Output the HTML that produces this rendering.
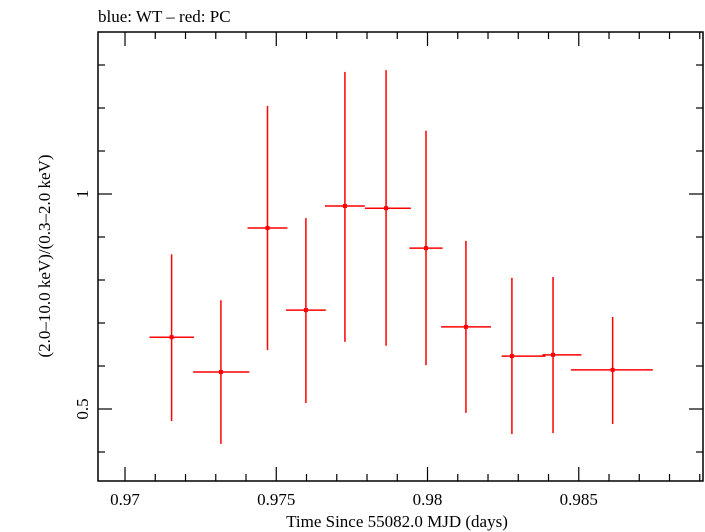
<!DOCTYPE html>
<html><head><meta charset="utf-8"><style>
body{margin:0;background:#fff}
svg{display:block;font-family:"Liberation Serif",serif}
</style></head><body>
<svg id="chart" width="705" height="532" xmlns="http://www.w3.org/2000/svg">
<text x="98" y="22" font-size="17">blue: WT – red: PC</text>
<rect x="98" y="32" width="605" height="449" fill="none" stroke="#000" stroke-width="1.5"/>
<g id="ticks"></g>
<g id="marks"></g>
<text x="397" y="527" font-size="17" text-anchor="middle">Time Since 55082.0 MJD (days)</text>
<text transform="translate(50,256) rotate(-90)" font-size="17" text-anchor="middle">(2.0–10.0 keV)/(0.3–2.0 keV)</text>
</svg>
<script>
const xCenter=[0.97154,0.97317,0.97471,0.97598,0.97727,0.97863,0.97995,0.98127,0.98279,0.98415,0.98612];
const xLo=[0.97081,0.97225,0.97405,0.97532,0.97661,0.97793,0.97940,0.98045,0.98245,0.98380,0.98474];
const xHi=[0.97228,0.97411,0.97537,0.97664,0.97793,0.97945,0.98050,0.98210,0.98390,0.98509,0.98745];
const yVal=[0.667,0.586,0.921,0.730,0.972,0.967,0.874,0.691,0.623,0.626,0.591];
const yLo=[0.472,0.419,0.637,0.514,0.656,0.647,0.602,0.491,0.442,0.444,0.465];
const yHi=[0.860,0.753,1.205,0.944,1.284,1.288,1.147,0.891,0.805,0.807,0.714];
const xTickLabels=["0.97","0.975","0.98","0.985"];
const yTickLabels=["0.5","1"];
const X0=98,X1=703,Y0=32,Y1=481,XMIN=0.969107,XMAX=0.989107,YMIN=0.33256,YMAX=1.37674;
const sx=v=>X0+(v-XMIN)/(XMAX-XMIN)*(X1-X0);
const sy=v=>Y1-(v-YMIN)/(YMAX-YMIN)*(Y1-Y0);
const NS="http://www.w3.org/2000/svg";
function mk(tag,attrs,parent){const e=document.createElementNS(NS,tag);for(const k in attrs)e.setAttribute(k,attrs[k]);parent.appendChild(e);return e;}
const tg=document.getElementById('ticks'),mg=document.getElementById('marks');
for(let i=0;i<=20;i++){const v=0.969+i*0.001;if(v<XMIN-1e-9||v>XMAX)continue;const x=sx(v);const major=Math.abs(Math.round(v*200)-v*200)<1e-6;const L=major?14:7;
const a=mk('line',{x1:x,x2:x,y1:Y1,y2:Y1-L,stroke:'#000','stroke-width':1.2},tg);


const b=mk('line',{x1:x,x2:x,y1:Y0,y2:Y0+L,stroke:'#000','stroke-width':1.2},tg);

}
xTickLabels.forEach(s=>{const t=mk('text',{x:sx(parseFloat(s)),y:505,'font-size':17,'text-anchor':'middle'},tg);t.textContent=s;

});
for(let i=3;i<=13;i++){const v=i/10;if(v<YMIN||v>YMAX)continue;const y=sy(v);const major=(i==5||i==10);const L=major?14:7;
const a=mk('line',{x1:X0,x2:X0+L,y1:y,y2:y,stroke:'#000','stroke-width':1.2},tg);


const b=mk('line',{x1:X1,x2:X1-L,y1:y,y2:y,stroke:'#000','stroke-width':1.2},tg);

}
yTickLabels.forEach(s=>{const y=sy(parseFloat(s));const t=mk('text',{transform:`translate(88,${y}) rotate(-90)`,'font-size':17,'text-anchor':'middle'},tg);t.textContent=s;

});
xCenter.forEach((xc,i)=>{const g=mk('g',{},mg);


mk('line',{x1:sx(xLo[i]),x2:sx(xHi[i]),y1:sy(yVal[i]),y2:sy(yVal[i]),stroke:'#f00','stroke-width':1.5},g);
mk('line',{x1:sx(xc),x2:sx(xc),y1:sy(yLo[i]),y2:sy(yHi[i]),stroke:'#f00','stroke-width':1.5},g);
mk('rect',{x:sx(xc)-2,y:sy(yVal[i])-2,width:4,height:4,fill:'#f00'},g);});
</script>
</body></html>
